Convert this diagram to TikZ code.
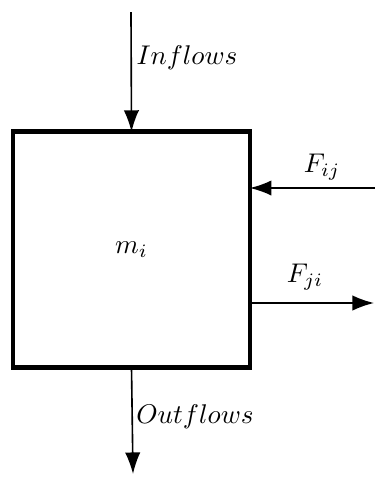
\documentclass[tikz,border=0pt]{standalone}
\usepackage{tikz}
\usetikzlibrary{arrows.meta}

\begin{document}
\begin{tikzpicture}[
  x=0.013cm, y=-0.013cm,
  massbox/.style={
    draw, line width=1.8pt, outer sep=0pt, minimum width=3.08cm, minimum height=3.06cm,
  },
  flow/.style={
    semithick, -{Latex[length=2.8mm,width=2mm]},
  },
]
\useasboundingbox (0,0) rectangle (375,477);

% Control volume
\node[massbox] (mass) at (131.5,249.5) {$m_i$};

% Inflows and outflows
\coordinate (intop) at (131,12);
\coordinate (outbot) at (133,474);
\draw[flow] (intop) -- (mass.north);
\draw[flow] (mass.south) -- (outbot);
\node (inlab) at (187,58) {$Inflows$};
\node (outlab) at (195,417) {$Outflows$};

% Exchange with neighbour
\coordinate (fijstart) at (375,188);
\coordinate (fjiend) at (374,303);
\draw[flow] (fijstart) -- (mass.east |- fijstart);
\draw[flow] (mass.east |- fjiend) -- (fjiend);
\node (fijlab) at (322,167) {$F_{ij}$};
\node (fjilab) at (305,277) {$F_{ji}$};

\end{tikzpicture}
\end{document}
